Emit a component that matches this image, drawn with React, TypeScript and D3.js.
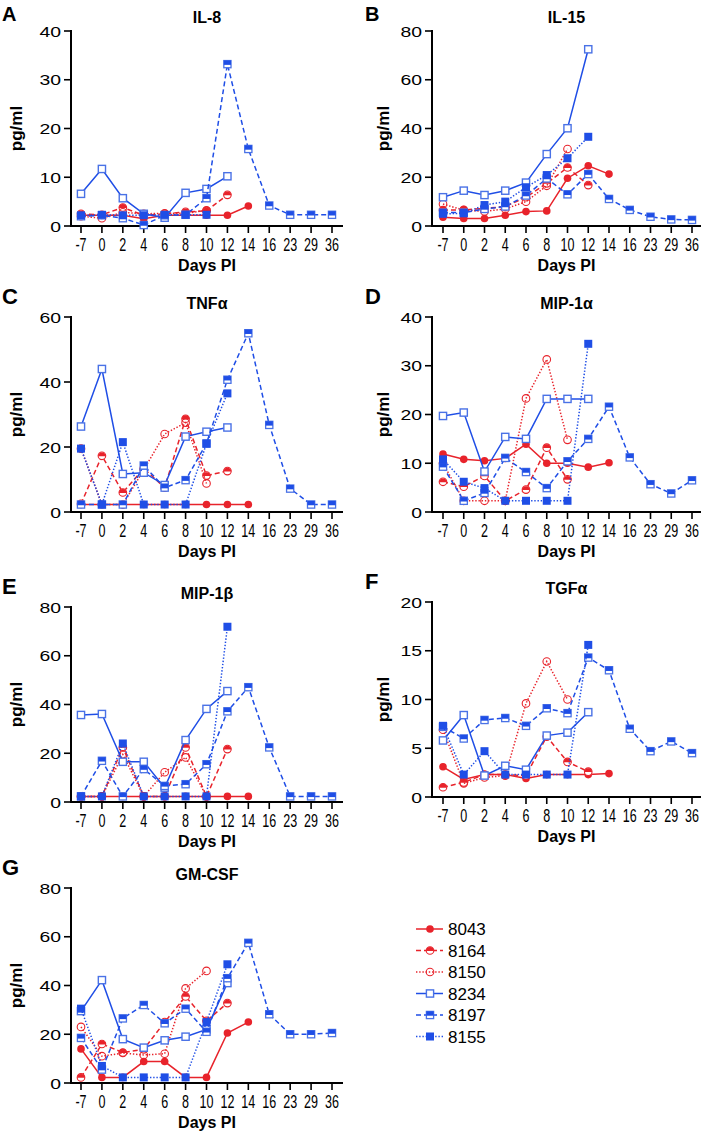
import React from "react";
import * as d3 from "d3";

const N = null;
const days = ["-7", "0", "2", "4", "6", "8", "10", "12", "14", "16", "23", "29", "36"];
const animals = ["8043", "8164", "8150", "8234", "8197", "8155"];

// rows: 8043, 8164, 8150, 8234, 8197, 8155
const il8: (number | null)[][] = [
  [2.2, 2.2, 2.2, 1.5, 2.2, 2.2, 2.2, 2.2, 4.1, N, N, N, N],
  [2.5, 2.3, 3.8, 2.2, 2.5, 2.9, 3.1, 6.4, N, N, N, N, N],
  [2.0, 1.6, 2.8, 2.5, 2.6, 2.6, 3.2, N, N, N, N, N, N],
  [6.6, 11.7, 5.7, 2.5, 1.7, 6.8, 7.6, 10.2, N, N, N, N, N],
  [2.0, 2.2, 1.6, 0.2, 2.2, 2.3, 5.7, 33.2, 15.8, 4.2, 2.3, 2.3, 2.3],
  [2.2, 2.3, 2.2, 2.2, 2.3, 2.3, 2.3, N, N, N, N, N, N],
];
const il15: (number | null)[][] = [
  [3.6, 3.1, 3.1, 4.4, 5.9, 6.2, 19.6, 24.7, 21.3, N, N, N, N],
  [6.5, 6.6, 7.2, 8.0, 11.8, 17.5, 24.0, 16.8, N, N, N, N, N],
  [9.0, 6.5, 6.0, 7.0, 10.0, 16.5, 31.6, N, N, N, N, N, N],
  [11.8, 14.5, 12.7, 14.5, 17.8, 29.5, 40.1, 72.5, N, N, N, N, N],
  [5.5, 5.5, 7.0, 8.0, 12.5, 19.5, 13.0, 21.3, 11.1, 6.6, 3.8, 2.7, 2.5],
  [5.0, 5.2, 8.6, 10.0, 15.9, 20.9, 27.8, 36.6, N, N, N, N, N],
];
const tnfa: (number | null)[][] = [
  [2.3, 2.3, 2.3, 2.3, 2.3, 2.3, 2.3, 2.3, 2.3, N, N, N, N],
  [2.5, 17.3, 6.0, 13.4, 7.5, 28.7, 11.2, 12.6, N, N, N, N, N],
  [19.5, 2.3, 2.3, 13.0, 24.0, 27.5, 8.8, N, N, N, N, N, N],
  [26.3, 44.0, 11.7, 12.1, 8.3, 23.2, 24.7, 26.0, N, N, N, N, N],
  [2.3, 2.3, 2.3, 14.3, 7.5, 9.8, 21.1, 40.7, 55.0, 26.8, 7.2, 2.3, 2.3],
  [19.5, 2.3, 21.5, 2.3, 2.3, 2.3, 21.0, 36.5, N, N, N, N, N],
];
const mip1a: (number | null)[][] = [
  [11.9, 10.8, 10.5, 11.0, 13.9, 10.0, 10.0, 9.2, 10.1, N, N, N, N],
  [6.2, 5.2, 7.4, 2.3, 4.6, 13.2, 6.7, N, N, N, N, N, N],
  [10.0, 2.3, 2.3, 2.3, 23.3, 31.3, 14.8, N, N, N, N, N, N],
  [19.7, 20.4, 8.3, 15.4, 15.0, 23.2, 23.2, 23.2, N, N, N, N, N],
  [9.3, 2.3, 3.9, 11.1, 8.2, 4.9, 10.4, 15.0, 21.6, 11.2, 5.7, 3.8, 6.5],
  [10.8, 6.2, 4.9, 2.3, 2.3, 2.3, 2.3, 34.5, N, N, N, N, N],
];
const mip1b: (number | null)[][] = [
  [2.3, 2.3, 2.3, 2.3, 2.3, 2.3, 2.3, 2.3, 2.3, N, N, N, N],
  [2.3, 2.3, 22.4, 2.3, 2.3, 22.4, 2.3, 21.7, N, N, N, N, N],
  [2.3, 2.3, 19.5, 2.3, 12.2, 18.3, 2.3, N, N, N, N, N, N],
  [35.7, 36.1, 16.5, 16.5, 5.9, 25.4, 38.2, 45.5, N, N, N, N, N],
  [2.3, 16.9, 2.3, 13.5, 6.6, 7.3, 15.5, 37.2, 47.1, 22.4, 2.3, 2.3, 2.3],
  [2.3, 2.3, 24.0, 2.3, 2.3, 2.3, 2.3, 71.9, N, N, N, N, N],
];
const tgfa: (number | null)[][] = [
  [3.1, 1.8, 2.3, 2.3, 1.9, 2.3, 2.3, 2.3, 2.4, N, N, N, N],
  [1.0, 1.5, 2.3, 2.3, 2.2, 6.2, 3.6, 2.6, N, N, N, N, N],
  [6.9, 1.4, 2.0, 2.2, 9.6, 13.9, 10.0, N, N, N, N, N, N],
  [5.8, 8.4, 2.2, 3.2, 2.8, 6.3, 6.6, 8.7, N, N, N, N, N],
  [7.2, 6.0, 7.9, 8.1, 7.3, 9.1, 8.6, 14.3, 13.0, 7.0, 4.7, 5.7, 4.5],
  [7.3, 2.3, 4.7, 2.3, 2.3, 2.3, 2.3, 15.6, N, N, N, N, N],
];
const gmcsf: (number | null)[][] = [
  [14.0, 2.3, 2.3, 8.8, 8.8, 2.3, 2.3, 20.5, 25.0, N, N, N, N],
  [2.3, 16.0, 12.5, 13.8, 25.0, 35.5, 25.5, 32.8, N, N, N, N, N],
  [23.0, 11.0, 12.3, 11.5, 12.0, 38.8, 46.0, N, N, N, N, N, N],
  [29.5, 42.2, 18.0, 14.5, 17.5, 19.0, 22.0, 41.0, N, N, N, N, N],
  [18.5, 5.5, 26.5, 32.0, 24.5, 30.5, 21.0, 43.0, 57.5, 28.2, 20.0, 20.0, 20.5],
  [30.5, 7.0, 2.3, 2.3, 2.3, 2.3, 25.0, 48.7, N, N, N, N, N],
];

const panelLetters = ["A", "B", "C", "D", "E", "F", "G"];
const panelTitles = ["IL-8", "IL-15", "TNF\u03b1", "MIP-1\u03b1", "MIP-1\u03b2", "TGF\u03b1", "GM-CSF"];
const panelMax = [40, 80, 60, 40, 80, 20, 80];
const panelTicks = [
  [0, 10, 20, 30, 40],
  [0, 20, 40, 60, 80],
  [0, 20, 40, 60],
  [0, 10, 20, 30, 40],
  [0, 20, 40, 60, 80],
  [0, 5, 10, 15, 20],
  [0, 20, 40, 60, 80],
];
const panelData = [il8, il15, tnfa, mip1a, mip1b, tgfa, gmcsf];

const RED = "#e8232b";
const BLUE = "#1f4ee6";
const BLUE_L = "#4a72e6";
const FONT = "'Liberation Sans', Arial, Helvetica, sans-serif";

const colX = [
  { x0: 71, x1: 343, p0: 81, p1: 332, ylab: 22, letter: 2 },
  { x0: 432, x1: 701, p0: 443, p1: 692, ylab: 389, letter: 365 },
];
const rowTop = [31, 317, 607, 888];
const rowTopRight = [31, 317, 602, 888];
const PH = 195;

const dashes = ["", "5,3", "1.4,1.8", "", "5,3", "1.4,1.8"];
const colors = [RED, RED, RED, BLUE, BLUE, BLUE];

function Marker({ k, x, y }: { k: number; x: number; y: number }) {
  const r = 3.8;
  const s = 3.6;
  if (k === 0) return <circle cx={x} cy={y} r={r} fill={RED} />;
  if (k === 1)
    return (
      <g>
        <circle cx={x} cy={y} r={r} fill="#fff" stroke={RED} strokeWidth={1.1} />
        <path d={`M${x - r},${y + 0.4} A${r},${r} 0 0 1 ${x + r},${y + 0.4} Z`} fill={RED} />
      </g>
    );
  if (k === 2) return <circle cx={x} cy={y} r={r} fill="none" stroke={RED} strokeWidth={1.1} />;
  if (k === 3)
    return <rect x={x - s} y={y - s} width={2 * s} height={2 * s} fill="#fff" stroke={BLUE_L} strokeWidth={1.4} />;
  if (k === 4)
    return (
      <g>
        <rect x={x - s} y={y - s} width={2 * s} height={2 * s} fill="#fff" stroke={BLUE_L} strokeWidth={1.3} />
        <rect x={x - s} y={y - s} width={2 * s} height={s * 1.2} fill={BLUE} />
      </g>
    );
  return <rect x={x - s - 0.4} y={y - s - 0.4} width={2 * s + 0.8} height={2 * s + 0.8} fill={BLUE} />;
}

function Panel({ i }: { i: number }) {
  const col = colX[i % 2];
  const row = Math.floor(i / 2);
  const top = i % 2 === 0 ? rowTop[row] : rowTopRight[row];
  const bottom = top + PH;
  const x = d3.scalePoint<string>().domain(days).range([col.p0, col.p1]);
  const y = d3.scaleLinear().domain([0, panelMax[i]]).range([bottom, top]);
  const data = panelData[i];
  const cx = (col.x0 + col.x1) / 2;
  const letterY = row === 0 ? top - 10 : top - 13;
  return (
    <g>
      <text x={col.letter} y={letterY} fontFamily={FONT} fontWeight="bold" fontSize={row === 0 ? 20 : 22}>
        {panelLetters[i]}
      </text>
      <text x={cx} y={top - 8} fontFamily={FONT} fontWeight="bold" fontSize={16} textAnchor="middle">
        {panelTitles[i]}
      </text>
      <text
        transform={`translate(${col.ylab},${(top + bottom) / 2}) rotate(-90)`}
        fontFamily={FONT}
        fontWeight="bold"
        fontSize={17}
        textAnchor="middle"
      >
        pg/ml
      </text>
      <text x={cx} y={bottom + 45} fontFamily={FONT} fontWeight="bold" fontSize={16} textAnchor="middle">
        Days PI
      </text>
      {panelTicks[i].map((t) => (
        <g key={t}>
          <line x1={col.x0 - 7} x2={col.x0} y1={y(t)} y2={y(t)} stroke="#000" strokeWidth={1.6} />
          <text
            transform={`translate(${col.x0 - 10},${y(t) + 5.5}) scale(1.25,1)`}
            fontFamily={FONT}
            fontSize={15.5}
            textAnchor="end"
          >
            {t}
          </text>
        </g>
      ))}
      {days.map((d) => (
        <g key={d}>
          <line x1={x(d)} x2={x(d)} y1={bottom} y2={bottom + 7} stroke="#000" strokeWidth={1.6} />
          <text
            transform={`translate(${x(d)},${bottom + 25}) scale(0.66,1)`}
            fontFamily={FONT}
            fontSize={19}
            textAnchor="middle"
          >
            {d}
          </text>
        </g>
      ))}
      <line x1={col.x0} x2={col.x0} y1={top - 1} y2={bottom + 1} stroke="#000" strokeWidth={2} />
      <line x1={col.x0 - 1} x2={col.x1} y1={bottom} y2={bottom} stroke="#000" strokeWidth={2} />
      {data.map((vals, k) => {
        const pts = vals
          .map((v, j) => (v == null ? null : ([x(days[j]) as number, y(v)] as [number, number])))
          .filter((p): p is [number, number] => p != null);
        const path = d3.line()(pts) || "";
        return (
          <g key={k}>
            <path
              d={path}
              fill="none"
              stroke={k === 3 ? BLUE : colors[k]}
              strokeWidth={1.5}
              strokeDasharray={dashes[k] || undefined}
            />
            {pts.map((p, j) => (
              <Marker key={j} k={k} x={p[0]} y={p[1]} />
            ))}
          </g>
        );
      })}
    </g>
  );
}

function Legend() {
  const ly = d3.scaleLinear().domain([0, 1]).range([929, 950.5]);
  return (
    <g>
      {animals.map((a, k) => (
        <g key={a}>
          <line
            x1={416}
            x2={443}
            y1={ly(k)}
            y2={ly(k)}
            stroke={k === 3 ? BLUE : colors[k]}
            strokeWidth={1.5}
            strokeDasharray={dashes[k] || undefined}
          />
          <Marker k={k} x={430} y={ly(k)} />
          <text x={448} y={ly(k) + 6} fontFamily={FONT} fontSize={17}>
            {a}
          </text>
        </g>
      ))}
    </g>
  );
}

export default function App() {
  return (
    <svg
      width={703}
      height={1132}
      style={{ position: "absolute", left: 0, top: 0, background: "#fff" }}
    >
      <rect width={703} height={1132} fill="#fff" />
      {panelData.map((_, i) => (
        <Panel key={i} i={i} />
      ))}
      <Legend />
    </svg>
  );
}
